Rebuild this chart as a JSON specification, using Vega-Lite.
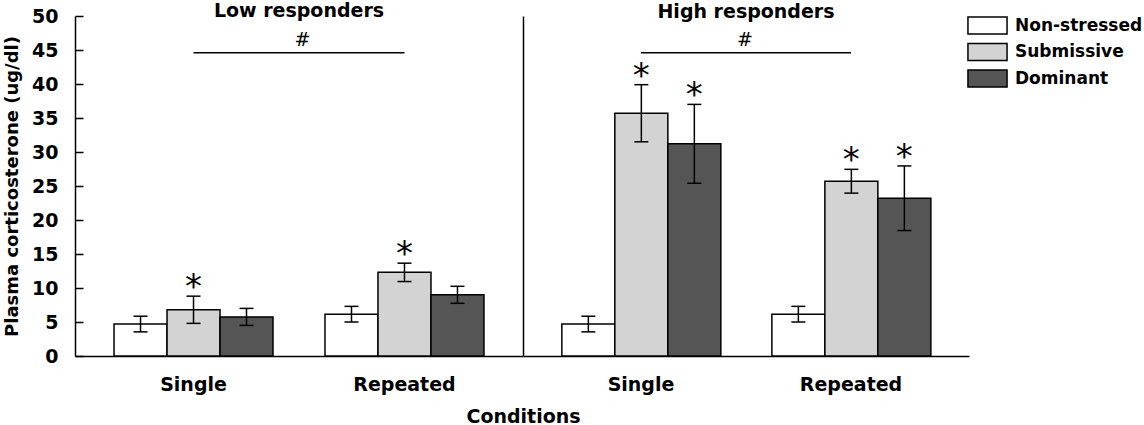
{
  "$schema": "https://vega.github.io/schema/vega-lite/v6.json",
  "description": "Plasma corticosterone in low and high responders",
  "padding": {"left": 3, "top": 2, "right": 0, "bottom": 0},
  "background": "white",
  "spacing": 0,
  "bounds": "flush",

  "datasets": {
    "bars": [
      {"resp": "Low", "cond": "Single", "group": "Non-stressed", "mean": 4.7, "sem": 1.15, "sig": ""},
      {"resp": "Low", "cond": "Single", "group": "Submissive", "mean": 6.8, "sem": 2.0, "sig": "*"},
      {"resp": "Low", "cond": "Single", "group": "Dominant", "mean": 5.75, "sem": 1.25, "sig": ""},
      {"resp": "Low", "cond": "Repeated", "group": "Non-stressed", "mean": 6.15, "sem": 1.15, "sig": ""},
      {"resp": "Low", "cond": "Repeated", "group": "Submissive", "mean": 12.3, "sem": 1.35, "sig": "*"},
      {"resp": "Low", "cond": "Repeated", "group": "Dominant", "mean": 9.0, "sem": 1.25, "sig": ""},
      {"resp": "High", "cond": "Single", "group": "Non-stressed", "mean": 4.7, "sem": 1.15, "sig": ""},
      {"resp": "High", "cond": "Single", "group": "Submissive", "mean": 35.7, "sem": 4.2, "sig": "*"},
      {"resp": "High", "cond": "Single", "group": "Dominant", "mean": 31.2, "sem": 5.8, "sig": "*"},
      {"resp": "High", "cond": "Repeated", "group": "Non-stressed", "mean": 6.15, "sem": 1.15, "sig": ""},
      {"resp": "High", "cond": "Repeated", "group": "Submissive", "mean": 25.7, "sem": 1.75, "sig": "*"},
      {"resp": "High", "cond": "Repeated", "group": "Dominant", "mean": 23.2, "sem": 4.75, "sig": "*"}
    ],
    "hash": [
      {"resp": "Low", "cond": "Single", "cond2": "Repeated", "y": 44.6, "label": "#"},
      {"resp": "High", "cond": "Single", "cond2": "Repeated", "y": 44.6, "label": "#"}
    ]
  },

  "config": {
    "font": "DejaVu Sans",
    "view": {"stroke": null},
    "title": {"font": "DejaVu Sans", "fontSize": 19, "fontWeight": "bold", "color": "black", "anchor": "middle", "baseline": "alphabetic", "offset": -14},
    "axis": {
      "labelFont": "DejaVu Sans", "labelFontSize": 19, "labelFontWeight": "bold", "labelColor": "black",
      "titleFont": "DejaVu Sans", "titleFontSize": 19, "titleFontWeight": "bold", "titleColor": "black",
      "domainColor": "black", "domainWidth": 1.5, "tickColor": "black", "tickWidth": 1.5, "grid": false
    },
    "legend": {
      "labelFont": "DejaVu Sans", "labelFontSize": 17, "labelFontWeight": "bold", "labelColor": "black"
    }
  },

  "hconcat": [
    {
      "width": 448,
      "height": 340,
      "title": "Low responders",
      "layer": [
        {
          "data": {"name": "bars"},
          "transform": [{"filter": "datum.resp === 'Low'"}],
          "mark": {"type": "bar", "stroke": "black", "strokeWidth": 1.5},
          "encoding": {
            "x": {"field": "cond", "type": "nominal", "sort": ["Single", "Repeated"], "title": "Conditions",
                  "scale": {"paddingInner": 0.2464, "paddingOuter": 0.185},
                  "axis": {"labelAngle": 0, "ticks": false, "labelPadding": 19, "titlePadding": 13, "titleX": 448, "titleAlign": "center"}},
            "xOffset": {"field": "group", "type": "nominal", "sort": ["Non-stressed", "Submissive", "Dominant"],
                        "scale": {"paddingInner": 0, "paddingOuter": 0}},
            "y": {"field": "mean", "type": "quantitative", "title": "Plasma corticosterone (ug/dl)",
                  "scale": {"domain": [0, 50], "nice": false},
                  "axis": {"values": [0, 5, 10, 15, 20, 25, 30, 35, 40, 45, 50], "tickSize": -8, "labelPadding": 25,
                           "titleFontSize": 18, "titlePadding": 10}},
            "fill": {"field": "group", "type": "nominal", "sort": ["Non-stressed", "Submissive", "Dominant"],
                     "scale": {"domain": ["Non-stressed", "Submissive", "Dominant"], "range": ["#ffffff", "#d3d3d3", "#555555"]},
                     "legend": {"title": null, "orient": "right", "offset": 9, "padding": 0, "symbolType": "M-2.3,-1H2.3V1H-2.3Z",
                                "symbolSize": 289, "symbolStrokeColor": "black", "symbolStrokeWidth": 1.5,
                                "rowPadding": 3.5, "labelOffset": 18}}
          }
        },
        {
          "data": {"name": "bars"},
          "transform": [{"filter": "datum.resp === 'Low'"},
                        {"calculate": "datum.mean - datum.sem", "as": "lo"},
                        {"calculate": "datum.mean + datum.sem", "as": "hi"}],
          "mark": {"type": "rule", "color": "black", "strokeWidth": 1.5},
          "encoding": {
            "x": {"field": "cond", "type": "nominal", "sort": ["Single", "Repeated"], "title": "Conditions"},
            "xOffset": {"field": "group", "type": "nominal", "sort": ["Non-stressed", "Submissive", "Dominant"]},
            "y": {"field": "lo", "type": "quantitative", "title": "Plasma corticosterone (ug/dl)",
                  "axis": {"values": [0, 5, 10, 15, 20, 25, 30, 35, 40, 45, 50]}},
            "y2": {"field": "hi"}
          }
        },
        {
          "data": {"name": "bars"},
          "transform": [{"filter": "datum.resp === 'Low'"},
                        {"calculate": "datum.mean - datum.sem", "as": "lo"}],
          "mark": {"type": "tick", "color": "black", "size": 14, "thickness": 1.5, "opacity": 1},
          "encoding": {
            "x": {"field": "cond", "type": "nominal", "sort": ["Single", "Repeated"], "title": "Conditions"},
            "xOffset": {"field": "group", "type": "nominal", "sort": ["Non-stressed", "Submissive", "Dominant"]},
            "y": {"field": "lo", "type": "quantitative", "title": "Plasma corticosterone (ug/dl)",
                  "axis": {"values": [0, 5, 10, 15, 20, 25, 30, 35, 40, 45, 50]}}
          }
        },
        {
          "data": {"name": "bars"},
          "transform": [{"filter": "datum.resp === 'Low'"},
                        {"calculate": "datum.mean + datum.sem", "as": "hi"}],
          "mark": {"type": "tick", "color": "black", "size": 14, "thickness": 1.5, "opacity": 1},
          "encoding": {
            "x": {"field": "cond", "type": "nominal", "sort": ["Single", "Repeated"], "title": "Conditions"},
            "xOffset": {"field": "group", "type": "nominal", "sort": ["Non-stressed", "Submissive", "Dominant"]},
            "y": {"field": "hi", "type": "quantitative", "title": "Plasma corticosterone (ug/dl)",
                  "axis": {"values": [0, 5, 10, 15, 20, 25, 30, 35, 40, 45, 50]}}
          }
        },
        {
          "data": {"name": "bars"},
          "transform": [{"filter": "datum.resp === 'Low' && datum.sig === '*'"},
                        {"calculate": "datum.mean + datum.sem", "as": "hi"}],
          "mark": {"type": "text", "font": "DejaVu Sans", "fontSize": 34, "color": "black", "baseline": "alphabetic", "dy": 2},
          "encoding": {
            "x": {"field": "cond", "type": "nominal", "sort": ["Single", "Repeated"], "title": "Conditions"},
            "xOffset": {"field": "group", "type": "nominal", "sort": ["Non-stressed", "Submissive", "Dominant"]},
            "y": {"field": "hi", "type": "quantitative", "title": "Plasma corticosterone (ug/dl)",
                  "axis": {"values": [0, 5, 10, 15, 20, 25, 30, 35, 40, 45, 50]}},
            "text": {"field": "sig"}
          }
        },
        {
          "data": {"name": "hash"},
          "transform": [{"filter": "datum.resp === 'Low'"}],
          "mark": {"type": "rule", "color": "black", "strokeWidth": 1.5},
          "encoding": {
            "x": {"field": "cond", "type": "nominal", "sort": ["Single", "Repeated"], "title": "Conditions"},
            "x2": {"field": "cond2"},
            "y": {"field": "y", "type": "quantitative", "title": "Plasma corticosterone (ug/dl)",
                  "axis": {"values": [0, 5, 10, 15, 20, 25, 30, 35, 40, 45, 50]}}
          }
        },
        {
          "data": {"name": "hash"},
          "transform": [{"filter": "datum.resp === 'Low'"}],
          "mark": {"type": "text", "font": "DejaVu Sans", "fontSize": 19, "color": "black", "baseline": "alphabetic", "dy": -7, "dx": 109},
          "encoding": {
            "x": {"field": "cond", "type": "nominal", "sort": ["Single", "Repeated"], "title": "Conditions"},
            "y": {"field": "y", "type": "quantitative", "title": "Plasma corticosterone (ug/dl)",
                  "axis": {"values": [0, 5, 10, 15, 20, 25, 30, 35, 40, 45, 50]}},
            "text": {"field": "label"}
          }
        }
      ]
    },
    {
      "width": 446,
      "height": 340,
      "title": {"text": "High responders", "offset": -6},
      "layer": [
        {
          "data": {"name": "bars"},
          "transform": [{"filter": "datum.resp === 'High'"}],
          "mark": {"type": "bar", "stroke": "black", "strokeWidth": 1.5},
          "encoding": {
            "x": {"field": "cond", "type": "nominal", "sort": ["Single", "Repeated"], "title": null,
                  "scale": {"paddingInner": 0.2464, "paddingOuter": 0.185},
                  "axis": {"labelAngle": 0, "ticks": false, "labelPadding": 19}},
            "xOffset": {"field": "group", "type": "nominal", "sort": ["Non-stressed", "Submissive", "Dominant"],
                        "scale": {"paddingInner": 0, "paddingOuter": 0}},
            "y": {"field": "mean", "type": "quantitative", "title": null,
                  "scale": {"domain": [0, 50], "nice": false},
                  "axis": {"labels": false, "ticks": false}},
            "fill": {"field": "group", "type": "nominal", "sort": ["Non-stressed", "Submissive", "Dominant"],
                     "scale": {"domain": ["Non-stressed", "Submissive", "Dominant"], "range": ["#ffffff", "#d3d3d3", "#555555"]}}
          }
        },
        {
          "data": {"name": "bars"},
          "transform": [{"filter": "datum.resp === 'High'"},
                        {"calculate": "datum.mean - datum.sem", "as": "lo"},
                        {"calculate": "datum.mean + datum.sem", "as": "hi"}],
          "mark": {"type": "rule", "color": "black", "strokeWidth": 1.5},
          "encoding": {
            "x": {"field": "cond", "type": "nominal", "sort": ["Single", "Repeated"], "title": null},
            "xOffset": {"field": "group", "type": "nominal", "sort": ["Non-stressed", "Submissive", "Dominant"]},
            "y": {"field": "lo", "type": "quantitative", "title": null},
            "y2": {"field": "hi"}
          }
        },
        {
          "data": {"name": "bars"},
          "transform": [{"filter": "datum.resp === 'High'"},
                        {"calculate": "datum.mean - datum.sem", "as": "lo"}],
          "mark": {"type": "tick", "color": "black", "size": 14, "thickness": 1.5, "opacity": 1},
          "encoding": {
            "x": {"field": "cond", "type": "nominal", "sort": ["Single", "Repeated"], "title": null},
            "xOffset": {"field": "group", "type": "nominal", "sort": ["Non-stressed", "Submissive", "Dominant"]},
            "y": {"field": "lo", "type": "quantitative", "title": null}
          }
        },
        {
          "data": {"name": "bars"},
          "transform": [{"filter": "datum.resp === 'High'"},
                        {"calculate": "datum.mean + datum.sem", "as": "hi"}],
          "mark": {"type": "tick", "color": "black", "size": 14, "thickness": 1.5, "opacity": 1},
          "encoding": {
            "x": {"field": "cond", "type": "nominal", "sort": ["Single", "Repeated"], "title": null},
            "xOffset": {"field": "group", "type": "nominal", "sort": ["Non-stressed", "Submissive", "Dominant"]},
            "y": {"field": "hi", "type": "quantitative", "title": null}
          }
        },
        {
          "data": {"name": "bars"},
          "transform": [{"filter": "datum.resp === 'High' && datum.sig === '*'"},
                        {"calculate": "datum.mean + datum.sem", "as": "hi"}],
          "mark": {"type": "text", "font": "DejaVu Sans", "fontSize": 34, "color": "black", "baseline": "alphabetic", "dy": 2},
          "encoding": {
            "x": {"field": "cond", "type": "nominal", "sort": ["Single", "Repeated"], "title": null},
            "xOffset": {"field": "group", "type": "nominal", "sort": ["Non-stressed", "Submissive", "Dominant"]},
            "y": {"field": "hi", "type": "quantitative", "title": null},
            "text": {"field": "sig"}
          }
        },
        {
          "data": {"name": "hash"},
          "transform": [{"filter": "datum.resp === 'High'"}],
          "mark": {"type": "rule", "color": "black", "strokeWidth": 1.5},
          "encoding": {
            "x": {"field": "cond", "type": "nominal", "sort": ["Single", "Repeated"], "title": null},
            "x2": {"field": "cond2"},
            "y": {"field": "y", "type": "quantitative", "title": null}
          }
        },
        {
          "data": {"name": "hash"},
          "transform": [{"filter": "datum.resp === 'High'"}],
          "mark": {"type": "text", "font": "DejaVu Sans", "fontSize": 19, "color": "black", "baseline": "alphabetic", "dy": -7, "dx": 104},
          "encoding": {
            "x": {"field": "cond", "type": "nominal", "sort": ["Single", "Repeated"], "title": null},
            "y": {"field": "y", "type": "quantitative", "title": null},
            "text": {"field": "label"}
          }
        }
      ]
    }
  ]
}
